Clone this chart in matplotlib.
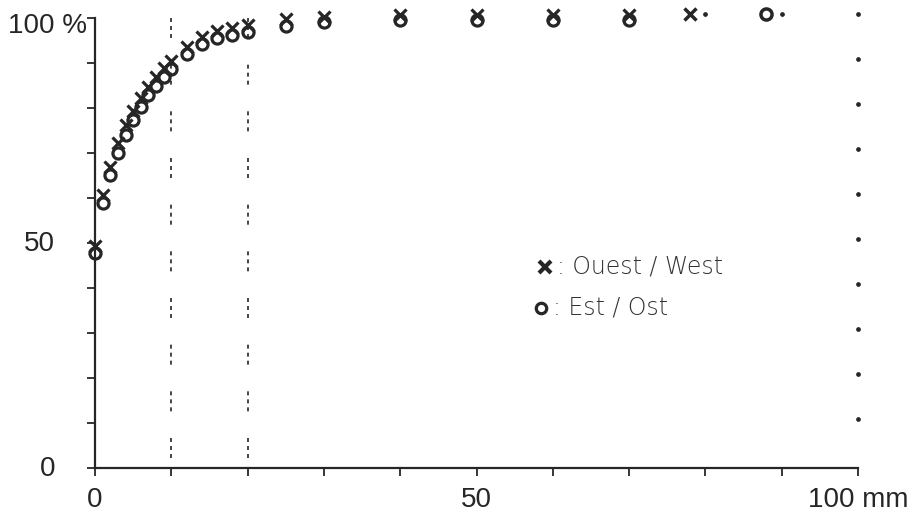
import matplotlib
matplotlib.use('Agg')
import matplotlib.pyplot as plt

# Courbes cumulees (%) en fonction du diametre (mm)
diam = [0, 1, 2, 3, 4, 5, 6, 7, 8, 9, 10, 12, 14, 16, 18, 20, 25, 30, 40, 50, 60, 70]
ouest = [49.3, 60.7, 66.9, 72.2, 76.2, 79.3, 82.2, 84.7, 87.0, 88.9, 90.4,
         93.6, 95.8, 97.2, 97.8, 98.4, 99.8, 100.2, 100.7, 100.7, 100.7, 100.7]
est = [47.8, 58.9, 65.1, 70.0, 74.0, 77.4, 80.3, 82.9, 85.0, 87.0, 88.6,
       91.9, 94.2, 95.6, 96.3, 97.0, 98.3, 99.2, 99.5, 99.5, 99.5, 99.5]
ouest_far = ([78], [101.0])
est_far = ([88], [101.0])

# reperes pointilles
ref_dashed = [10, 20]
dots_x = [80, 90, 100, 100, 100, 100, 100, 100, 100, 100, 100, 100]
dots_y = [101, 101, 101, 91, 81, 71, 61, 51, 41, 31, 21, 11]

xticks = list(range(0, 101, 10))
xlabels = ['0', '', '', '', '', '50', '', '', '', '', '100 mm']
yticks = list(range(0, 101, 10))
ylabels = {0: '0', 50: '50', 100: '100 %'}

ink = '#262626'

fig = plt.figure(figsize=(9.16, 5.19), dpi=100)
ax = fig.add_axes([95 / 916, 1 - 468 / 519, (858 - 95) / 916, (468 - 18) / 519])
ax.set_xlim(0, 100)
ax.set_ylim(0, 100)

for s in ['top', 'right']:
    ax.spines[s].set_visible(False)
for s in ['left', 'bottom']:
    ax.spines[s].set_linewidth(1.6)
    ax.spines[s].set_color(ink)

ax.set_xticks(xticks)
ax.set_xticklabels(xlabels, fontsize=20, family='Liberation Sans', color=ink)
ax.set_yticks(yticks)
ax.set_yticklabels([])
ax.tick_params(axis='x', direction='out', length=6, width=1.3, colors=ink, pad=8)
ax.tick_params(axis='y', direction='out', length=6, width=1.3, colors=ink)
ax.get_xticklabels()[0].set_x(0.6)

# etiquettes de l'axe y placees a la main (le % deborde)
for v, lab in ylabels.items():
    if v == 100:
        ax.annotate(lab, xy=(0, v), xycoords=ax.get_yaxis_transform(),
                    xytext=(-8, -8), textcoords='offset pixels', ha='right', va='center',
                    fontsize=20, family='Liberation Sans', color=ink)
    else:
        ax.annotate(lab, xy=(0, v), xycoords=ax.get_yaxis_transform(),
                    xytext=(-40, -1), textcoords='offset pixels', ha='right', va='center',
                    fontsize=20, family='Liberation Sans', color=ink)

for xr in ref_dashed:
    ax.plot([xr, xr], [100, 0], color=ink, lw=1.2,
            linestyle=(0, (2.4, 2.4, 2.4, 2.4, 2.4, 16.0)))

ax.plot(dots_x, dots_y, linestyle='none', marker='o', ms=2.4, color=ink, clip_on=False)

ax.plot(diam, est, linestyle='none', marker='o', ms=8, mfc='none', mec=ink, mew=2.3,
        clip_on=False, zorder=3)
ax.plot(diam, ouest, linestyle='none', marker='x', ms=9, mec=ink, mew=2.3,
        clip_on=False, zorder=4)
ax.plot(*ouest_far, linestyle='none', marker='x', ms=9, mec=ink, mew=2.5, clip_on=False)
ax.plot(*est_far, linestyle='none', marker='o', ms=8, mfc='none', mec=ink, mew=2.5,
        clip_on=False)

# legende
ax.plot([59], [44.7], linestyle='none', marker='x', ms=9, mec=ink, mew=3)
ax.plot([58.5], [35.6], linestyle='none', marker='o', ms=7.5, mfc='none', mec=ink, mew=2.3)
ax.text(60.5, 44.7, ': Ouest / West', fontsize=17, family='DejaVu Sans',
        fontweight='light', color='#333333', va='center', ha='left')
ax.text(60.0, 35.6, ': Est / Ost', fontsize=17, family='DejaVu Sans',
        fontweight='light', color='#333333', va='center', ha='left')

fig.savefig('out.png', dpi=100, facecolor='white')
